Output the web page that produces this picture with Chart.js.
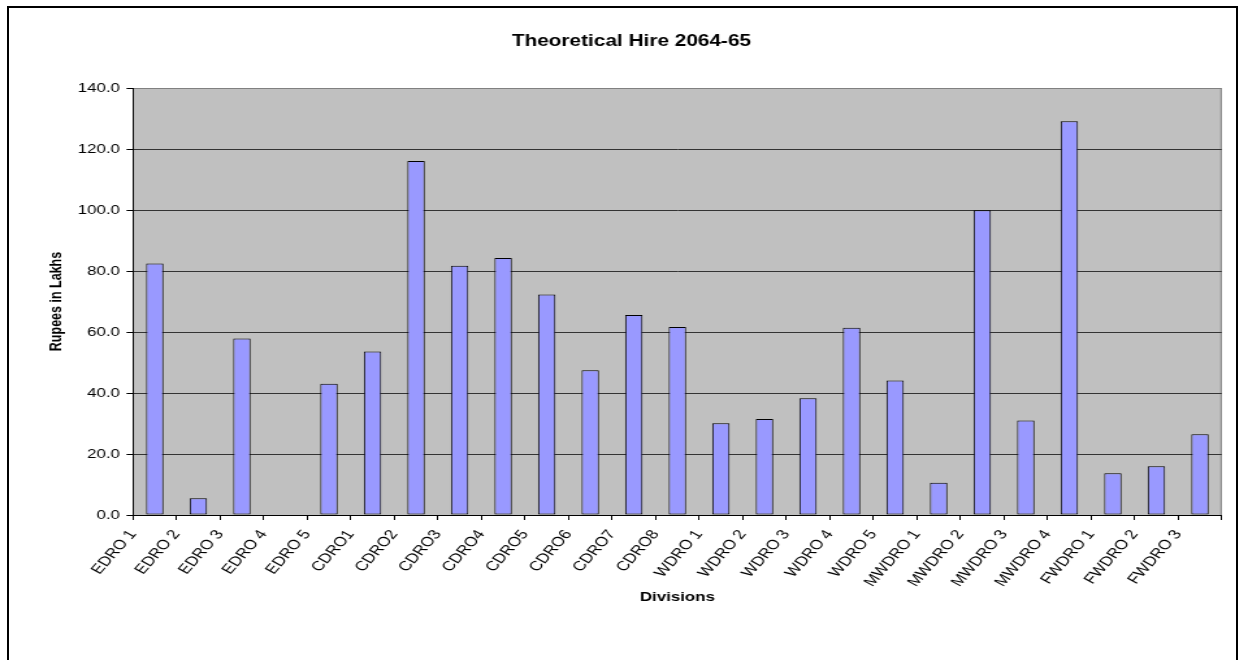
<!DOCTYPE html>
<html>
<head>
<meta charset="utf-8">
<title>Theoretical Hire 2064-65</title>
<script src="https://cdn.jsdelivr.net/npm/chart.js@4.4.0/dist/chart.umd.min.js"></script>
<style>
    body { margin: 0; background: #fff; }
    #frame { position: absolute; left: 7px; top: 6px; width: 1231px; height: 720px; border: 2px solid #000; box-sizing: border-box; }
    /* the picture is drawn wide, so the canvas is stretched sideways */
    #wrap { position: absolute; left: 0; top: 0; width: 953px; height: 660px; transform: scaleX(1.3); transform-origin: 0 0; }
</style>
</head>
<body>
<div id="frame"></div>
<div id="wrap"><canvas id="myChart" width="953" height="660"></canvas></div>
<script>
var divisions = ['EDRO 1', 'EDRO 2', 'EDRO 3', 'EDRO 4', 'EDRO 5',
    'CDRO1', 'CDRO2', 'CDRO3', 'CDRO4', 'CDRO5', 'CDRO6', 'CDRO7', 'CDRO8',
    'WDRO 1', 'WDRO 2', 'WDRO 3', 'WDRO 4', 'WDRO 5',
    'MWDRO 1', 'MWDRO 2', 'MWDRO 3', 'MWDRO 4',
    'FWDRO 1', 'FWDRO 2', 'FWDRO 3']
var hire = [82.5, 5.5, 57.9, 0, 43.0,
    53.6, 116.1, 81.7, 84.3, 72.3, 47.5, 65.6, 61.6,
    30.1, 31.5, 38.3, 61.4, 44.1,
    10.6, 99.9, 31.0, 129.1,
    13.7, 16.0, 26.5]
var yTicks = [0, 20, 40, 60, 80, 100, 120, 140]

// layout of the plot area inside the (unstretched) canvas
var plotLeft = 102.3
var plotRight = 939.8
var halfCategory = (plotRight - plotLeft) / divisions.length / 2

Chart.defaults.font.family = '"Liberation Sans", Arial, sans-serif'
Chart.defaults.color = '#000'

var plotBackground = {
    id: 'plotBackground',
    beforeDraw: function (chart) {
        var a = chart.chartArea
        var c = chart.ctx
        c.save()
        c.fillStyle = '#C0C0C0'
        c.fillRect(a.left, a.top, a.right - a.left, a.bottom - a.top)
        c.strokeStyle = '#808080'
        c.lineWidth = 1
        c.beginPath()
        c.moveTo(a.left, a.top + 0.5)
        c.lineTo(a.right - 0.5, a.top + 0.5)
        c.lineTo(a.right - 0.5, a.bottom)
        c.stroke()
        c.restore()
    }
}

var ctx = document.getElementById('myChart').getContext('2d')
var chart = new Chart(ctx, {
    type: 'bar',
    data: {
        labels: divisions,
        datasets: [{
            label: 'Theoretical Hire',
            data: hire,
            backgroundColor: '#9999FF',
            borderColor: '#000',
            borderWidth: 1,
            borderSkipped: false,
            barPercentage: 0.4,
            categoryPercentage: 1
        }]
    },
    options: {
        responsive: false,
        animation: false,
        layout: { padding: { left: 31.6, right: 953 - plotRight, top: 0, bottom: 0 } },
        plugins: {
            legend: { display: false },
            tooltip: { enabled: false },
            title: {
                display: true,
                text: 'Theoretical Hire 2064-65',
                font: { size: 16, weight: 'bold' },
                padding: { top: 32, bottom: 36.8 }
            }
        },
        scales: {
            x: {
                grid: { display: true, drawOnChartArea: false, offset: true, tickLength: 5, color: '#000' },
                border: { display: true, color: '#000' },
                ticks: {
                    font: { size: 13.5 },
                    minRotation: 55,
                    maxRotation: 55,
                    autoSkip: false,
                    padding: 7,
                    labelOffset: -halfCategory
                },
                title: {
                    display: true,
                    text: 'Divisions',
                    font: { size: 13, weight: 'bold' },
                    padding: { top: 4, bottom: 54.5 }
                },
                afterFit: function (scale) { scale.height = 145 }
            },
            y: {
                min: yTicks[0],
                max: yTicks[yTicks.length - 1],
                grid: {
                    color: function (c) { return c.tick && c.tick.value === yTicks[yTicks.length - 1] ? '#808080' : '#333' },
                    tickColor: '#000',
                    tickLength: 5
                },
                border: { display: true, color: '#000' },
                ticks: {
                    stepSize: yTicks[1] - yTicks[0],
                    font: { size: 13 },
                    padding: 5,
                    callback: function (v) { return v.toFixed(1) }
                },
                title: {
                    display: true,
                    text: 'Rupees in Lakhs',
                    font: { size: 12.5, weight: 'bold' },
                    padding: { top: 4, bottom: 4 }
                },
                afterFit: function (scale) { scale.width = plotLeft - 31.6 }
            }
        }
    },
    plugins: [plotBackground]
})
</script>
</body>
</html>
